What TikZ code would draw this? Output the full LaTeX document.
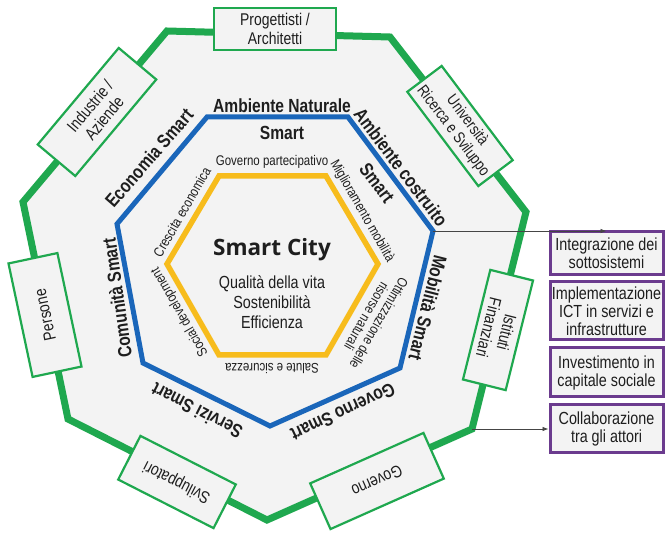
\documentclass[tikz,border=0pt]{standalone}
\usepackage{fontspec}
\setmainfont{Liberation Sans}[FakeStretch=0.82]
\newfontfamily\titlefont{Open Sans}
\usetikzlibrary{arrows.meta}
\definecolor{gline}{HTML}{1FA84F}
\definecolor{bline}{HTML}{1A66BA}
\definecolor{yline}{HTML}{F7BC1C}
\definecolor{pline}{HTML}{6B3B8E}
\definecolor{bgfill}{HTML}{F3F3F3}
\definecolor{txt}{HTML}{1E1E1E}
\definecolor{arr}{HTML}{454545}
\begin{document}
\begin{tikzpicture}[x=1pt,y=-1pt,
  gbox/.style={draw=gline, line width=2.2pt, fill=bgfill, inner sep=0pt, align=center,
    text=txt, font=\fontsize{17}{18.5}\selectfont},
  pbox/.style={draw=pline, line width=3pt, fill=bgfill, inner sep=0pt, align=center,
    minimum width=113pt, text=txt, font=\fontsize{17.5}{18}\selectfont},
  blab/.style={text=txt, inner sep=0pt, font=\fontsize{19}{20}\selectfont\bfseries},
  ylab/.style={text=txt, inner sep=0pt, align=center, font=\fontsize{14}{14}\selectfont},
  conn/.style={draw=arr, line width=0.8pt, -{Latex[length=6pt,width=4.5pt]}}
]
\useasboundingbox (0,0) rectangle (670,537);
\fill[white] (0,0) rectangle (670,537);
% outer heptagon
\coordinate (G1) at (167,31);
\coordinate (G2) at (390,37);
\coordinate (G3) at (526,212);
\coordinate (G4) at (472,429);
\coordinate (G5) at (267,520);
\coordinate (G6) at (68,419);
\coordinate (G7) at (23,202);
% blue heptagon
\coordinate (B1) at (207,117);
\coordinate (B2) at (348,117);
\coordinate (B3) at (433,231);
\coordinate (B4) at (400,368);
\coordinate (B5) at (270,426);
\coordinate (B6) at (143,363);
\coordinate (B7) at (117,224);
% yellow hexagon
\coordinate (Y1) at (219,176);
\coordinate (Y2) at (326,176);
\coordinate (Y3) at (378,264);
\coordinate (Y4) at (326,355);
\coordinate (Y5) at (219,355);
\coordinate (Y6) at (167,264);

\draw[gline, line width=7pt, fill=bgfill] (G1)--(G2)--(G3)--(G4)--(G5)--(G6)--(G7)--cycle;
\draw[bline, line width=5pt] (B1)--(B2)--(B3)--(B4)--(B5)--(B6)--(B7)--cycle;
\draw[yline, line width=5.5pt] (Y1)--(Y2)--(Y3)--(Y4)--(Y5)--(Y6)--cycle;

% centre
\node[text=txt, inner sep=0pt, font=\titlefont\bfseries\fontsize{22.5}{24}\selectfont] (title) at (272,250) {Smart City};
\node[text=txt, inner sep=0pt, align=center, font=\fontsize{17.5}{20}\selectfont] (values) at (272,302) {Qualità della vita\\Sostenibilità\\Efficienza};

% yellow labels
\node[ylab] (yl1) at (272,162) {Governo partecipativo};
\node[ylab, rotate=-60] (yl2) at (362,211) {Miglioramento mobilità};
\node[ylab, rotate=-120] (yl3) at (373,320) {Ottimizzazione delle\\risorse naturali};
\node[ylab, rotate=180] (yl4) at (272,369) {Salute e sicurezza};
\node[ylab, rotate=120] (yl5) at (180,312) {Social development};
\node[ylab, rotate=60] (yl6) at (182,212) {Crescita economica};

% blue labels
\node[blab] (bl1) at (282,106) {Ambiente Naturale};
\node[blab] (bl1b) at (282,133) {Smart};
\node[blab, rotate=-53] (bl2) at (401,167) {Ambiente costruito};
\node[blab, rotate=-53] (bl2b) at (377,183) {Smart};
\node[blab, rotate=-104] (bl3) at (428,308) {Mobilità Smart};
\node[blab, rotate=-155] (bl4) at (343,412) {Governo Smart};
\node[blab, rotate=153] (bl5) at (197,411) {Servizi Smart};
\node[blab, rotate=98] (bl6) at (117,298) {Comunità Smart};
\node[blab, rotate=49] (bl7) at (149,158) {Economia Smart};

% green boxes
\node[gbox, minimum width=122pt, minimum height=42pt] (prog) at (275,29) {Progettisti /\\Architetti};
\node[gbox, minimum width=126pt, minimum height=49pt, rotate=50] (ind) at (97,112) {Industrie /\\Aziende};
\node[gbox, minimum width=116pt, minimum height=50pt, rotate=102] (pers) at (45,315) {Persone};
\node[gbox, minimum width=107pt, minimum height=49pt, rotate=153] (svil) at (177,482) {Sviluppatori};
\node[gbox, minimum width=124pt, minimum height=50pt, rotate=-156] (gov) at (377,481) {Governo};
\node[gbox, minimum width=113pt, minimum height=44pt, rotate=-104] (ist) at (498,330) {Istituti\\Finanziari};
\node[gbox, minimum width=118pt, minimum height=43pt, rotate=-53, font=\fontsize{16}{17.5}\selectfont] (univ) at (460,126) {Università\\Ricerca e Sviluppo};

% purple boxes
\node[pbox, minimum height=43pt] (p1) at (606.5,253.5) {Integrazione dei\\sottosistemi};
\node[pbox, minimum height=58pt] (p2) at (606.5,311) {Implementazione\\ICT in servizi e\\infrastrutture};
\node[pbox, minimum height=49pt] (p3) at (606.5,372.5) {Investimento in\\capitale sociale};
\node[pbox, minimum height=48pt] (p4) at (606.5,429) {Collaborazione\\tra gli attori};

% connectors
\draw[conn] (B3) -- (B3 -| p1.north);
\draw[conn] (G4) -- (p4.west);
\end{tikzpicture}
\end{document}
